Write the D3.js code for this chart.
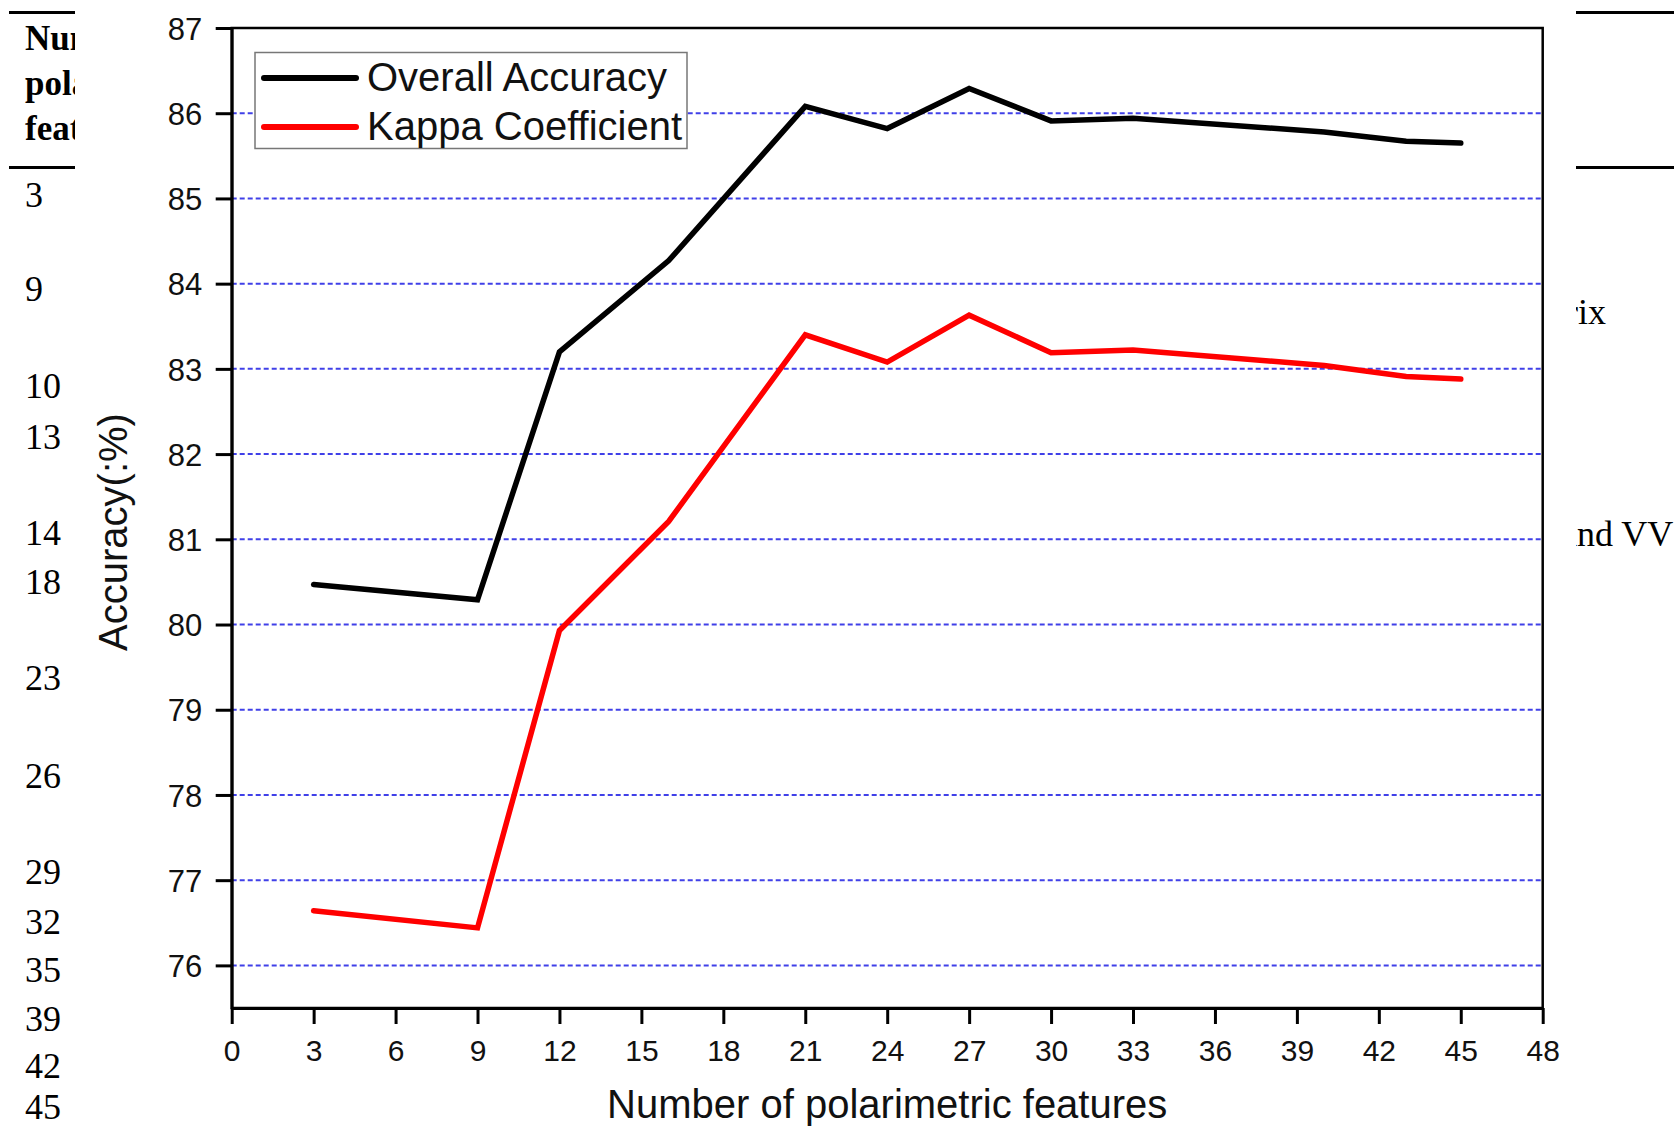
<!DOCTYPE html>
<html>
<head>
<meta charset="utf-8">
<script src="https://cdn.jsdelivr.net/npm/d3@7"></script>
<style>
  html, body { margin: 0; padding: 0; background: #fff; }
  svg { display: block; }
</style>
</head>
<body>
<svg id="chart" width="1674" height="1128"></svg>
<script>
// ---- data ----
const features = [3, 9, 12, 16, 21, 24, 27, 30, 33, 40, 43, 45];
const overallAccuracy = [80.47, 80.29, 83.20, 84.27, 86.08, 85.82, 86.29, 85.91, 85.94, 85.78, 85.67, 85.65];
const kappaCoefficient = [76.64, 76.44, 79.93, 81.21, 83.40, 83.08, 83.63, 83.19, 83.22, 83.04, 82.91, 82.88];
const xTicks = [0, 3, 6, 9, 12, 15, 18, 21, 24, 27, 30, 33, 36, 39, 42, 45, 48];
const yTicks = [76, 77, 78, 79, 80, 81, 82, 83, 84, 85, 86, 87];
const gridValues = [76, 77, 78, 79, 80, 81, 82, 83, 84, 85, 86];
const seriesNames = ["Overall Accuracy", "Kappa Coefficient"];
const seriesColors = ["#000000", "#ff0000"];
const xTitle = "Number of polarimetric features";
const yTitle = "Accuracy(:%)";
// background page fragments (table partly hidden behind the figure)
const leftHeader = ["Num", "pola", "feat"];
const leftNumbers = ["3", "9", "10", "13", "14", "18", "23", "26", "29", "32", "35", "39", "42", "45"];
const leftNumberBaselines = [207, 301, 398, 449, 545, 594, 690, 788, 884, 934, 982, 1031, 1078, 1119];
const rightTexts = ["rix", "and VV"];

// ---- layout ----
const W = 1674, H = 1128;
const pLeft = 231.7, pRight = 1542.7, pTop = 28, pBottom = 1008;
const svg = d3.select("#chart");
svg.append("rect").attr("width", W).attr("height", H).attr("fill", "#fff");

const defs = svg.append("defs");
defs.append("clipPath").attr("id", "clipL").append("rect")
  .attr("x", 0).attr("y", 0).attr("width", 75).attr("height", H);
defs.append("clipPath").attr("id", "clipR").append("rect")
  .attr("x", 1576).attr("y", 0).attr("width", W - 1576).attr("height", H);

// background page table fragments
const pageL = svg.append("g").attr("clip-path", "url(#clipL)")
  .style("font-family", "'Liberation Serif', 'Times New Roman', serif");
pageL.append("line").attr("x1", 9).attr("x2", 80).attr("y1", 12.5).attr("y2", 12.5)
  .attr("stroke", "#000").attr("stroke-width", 3);
pageL.append("line").attr("x1", 9).attr("x2", 80).attr("y1", 167.5).attr("y2", 167.5)
  .attr("stroke", "#000").attr("stroke-width", 3);
const headerBaselines = [50, 95, 140];
leftHeader.forEach((t, i) => {
  pageL.append("text").attr("x", 25).attr("y", headerBaselines[i])
    .attr("font-size", 35).attr("font-weight", "bold").attr("fill", "#000").text(t);
});
leftNumbers.forEach((t, i) => {
  pageL.append("text").attr("x", 25).attr("y", leftNumberBaselines[i])
    .attr("font-size", 36).attr("fill", "#000").text(t);
});

const pageR = svg.append("g").attr("clip-path", "url(#clipR)")
  .style("font-family", "'Liberation Serif', 'Times New Roman', serif");
pageR.append("line").attr("x1", 1570).attr("x2", W).attr("y1", 12.5).attr("y2", 12.5)
  .attr("stroke", "#000").attr("stroke-width", 3);
pageR.append("line").attr("x1", 1570).attr("x2", W).attr("y1", 167.5).attr("y2", 167.5)
  .attr("stroke", "#000").attr("stroke-width", 3);
pageR.append("text").attr("x", 1566).attr("y", 324).attr("font-size", 36).attr("fill", "#000").text(rightTexts[0]);
pageR.append("text").attr("x", 1561).attr("y", 546).attr("font-size", 36).attr("fill", "#000").text(rightTexts[1]);

// ---- chart ----
const x = d3.scaleLinear().domain([0, 48]).range([pLeft, pRight]);
const y = d3.scaleLinear().domain([75.5, 87]).range([pBottom, pTop]);

const g = svg.append("g").style("font-family", "'Liberation Sans', Arial, sans-serif");

// grid
g.append("g").selectAll("line").data(gridValues).join("line")
  .attr("x1", pLeft).attr("x2", pRight)
  .attr("y1", d => y(d)).attr("y2", d => y(d))
  .attr("stroke", "#4040e8").attr("stroke-width", 2)
  .attr("stroke-dasharray", "5,3");

// frame
g.append("rect").attr("x", pLeft).attr("y", pTop)
  .attr("width", pRight - pLeft).attr("height", pBottom - pTop)
  .attr("fill", "none").attr("stroke", "#000").attr("stroke-width", 2.5);

// axes
const yAxis = g.append("g").attr("transform", `translate(${pLeft},0)`)
  .call(d3.axisLeft(y).tickValues(yTicks).tickSize(16).tickSizeOuter(0).tickFormat(d3.format("d")));
yAxis.select(".domain").attr("stroke", "#000").attr("stroke-width", 3);
yAxis.selectAll(".tick line").attr("stroke", "#000").attr("stroke-width", 3);
yAxis.selectAll(".tick text").attr("x", -29.5).attr("dy", "0.36em")
  .attr("font-size", 31).attr("fill", "#111");

const xAxis = g.append("g").attr("transform", `translate(0,${pBottom})`)
  .call(d3.axisBottom(x).tickValues(xTicks).tickSize(16).tickSizeOuter(0).tickFormat(d3.format("d")));
xAxis.select(".domain").attr("stroke", "#000").attr("stroke-width", 3);
xAxis.selectAll(".tick line").attr("stroke", "#000").attr("stroke-width", 3);
xAxis.selectAll(".tick text").attr("y", 53).attr("dy", "0")
  .attr("font-size", 30).attr("fill", "#111");

// axis titles
g.append("text").attr("x", (pLeft + pRight) / 2).attr("y", 1118)
  .attr("text-anchor", "middle").attr("font-size", 40).attr("fill", "#111").text(xTitle);
g.append("text").attr("transform", `translate(127,532) rotate(-90)`)
  .attr("text-anchor", "middle").attr("font-size", 40).attr("fill", "#111").text(yTitle);

// lines
const line = d3.line().x(d => x(d[0])).y(d => y(d[1]));
const seriesData = [overallAccuracy, kappaCoefficient];
seriesData.forEach((vals, i) => {
  g.append("path").datum(features.map((f, j) => [f, vals[j]]))
    .attr("d", line).attr("fill", "none")
    .attr("stroke", seriesColors[i]).attr("stroke-width", 5.5)
    .attr("stroke-linejoin", "miter").attr("stroke-linecap", "round");
});

// legend
const lg = g.append("g");
lg.append("rect").attr("x", 255).attr("y", 52.5).attr("width", 432).attr("height", 96)
  .attr("fill", "#fff").attr("stroke", "#777").attr("stroke-width", 1.5);
const legendY = [78, 127];
seriesNames.forEach((name, i) => {
  lg.append("line").attr("x1", 264).attr("x2", 356)
    .attr("y1", legendY[i]).attr("y2", legendY[i])
    .attr("stroke", seriesColors[i]).attr("stroke-width", 6).attr("stroke-linecap", "round");
  lg.append("text").attr("x", 367).attr("y", legendY[i] + 13)
    .attr("font-size", 40).attr("fill", "#111").text(name);
});
</script>
</body>
</html>
